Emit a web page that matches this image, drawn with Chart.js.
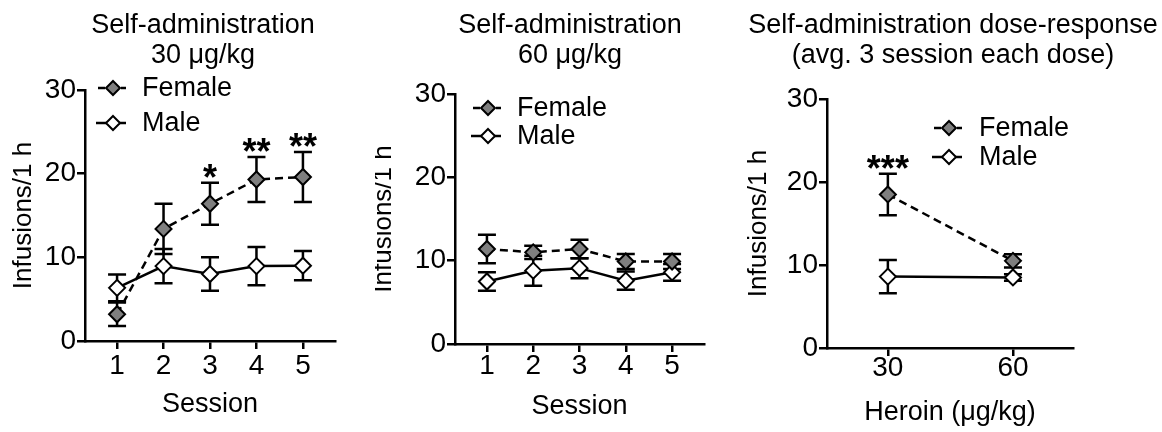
<!DOCTYPE html>
<html><head><meta charset="utf-8">
<script src="https://cdn.jsdelivr.net/npm/chart.js@4.4.0/dist/chart.umd.min.js"></script>
<style>
html,body{margin:0;padding:0;background:#fff;overflow:hidden;width:1162px;height:432px;}
.panel{position:absolute;top:0;}
canvas{display:block;}
</style></head><body>
<div class="panel" style="left:0px"><canvas id="c1" width="406" height="432"></canvas></div>
<div class="panel" style="left:375px"><canvas id="c2" width="390" height="432"></canvas></div>
<div class="panel" style="left:745px"><canvas id="c3" width="416" height="432"></canvas></div>
<script>
// ---------------- data ----------------
const sessions = [1, 2, 3, 4, 5];
const doses = [30, 60];
const yTicks = [0, 10, 20, 30];

const p1Female    = [3.2, 13.4, 16.4, 19.3, 19.6];
const p1FemaleErr = [1.4, 3.0, 2.5, 2.7, 3.0];
const p1Male      = [6.35, 8.95, 8.0, 8.95, 9.0];
const p1MaleErr   = [1.6, 2.05, 2.0, 2.3, 1.75];
const p1Stars     = ['', '', '*', '**', '**'];

const p2Female    = [11.4, 11.0, 11.4, 9.9, 9.9];
const p2FemaleErr = [1.7, 0.8, 1.1, 0.9, 0.9];
const p2Male      = [7.5, 8.8, 9.1, 7.6, 8.6];
const p2MaleErr   = [1.1, 1.8, 1.2, 1.1, 1.0];
const p2Stars     = ['', '', '', '', ''];

const p3Female    = [18.5, 10.5];
const p3FemaleErr = [2.5, 0.8];
const p3Male      = [8.6, 8.5];
const p3MaleErr   = [2.0, 0.4];
const p3Stars     = ['***', ''];

const seriesNames = ['Female', 'Male'];
// --------------------------------------

const FONT = "'Liberation Sans', Arial, Helvetica, sans-serif";
Chart.defaults.font.family = FONT;
Chart.defaults.color = '#000';

function diamond(ctx, x, y, r, fill) {
  ctx.beginPath();
  ctx.moveTo(x, y - r); ctx.lineTo(x + r, y); ctx.lineTo(x, y + r); ctx.lineTo(x - r, y);
  ctx.closePath();
  ctx.fillStyle = fill; ctx.fill();
  ctx.lineWidth = 2; ctx.strokeStyle = '#000'; ctx.setLineDash([]); ctx.stroke();
}

const errorBars = {
  id: 'errorBars',
  beforeDatasetsDraw(chart) {
    const ctx = chart.ctx, xs = chart.scales.x, ys = chart.scales.y;
    ctx.save();
    ctx.strokeStyle = '#000'; ctx.lineWidth = 2.5; ctx.setLineDash([]);
    chart.data.datasets.forEach(ds => {
      ds.data.forEach((pt, i) => {
        const e = ds.errors[i];
        const px = xs.getPixelForValue(pt.x);
        const top = ys.getPixelForValue(pt.y + e), bot = ys.getPixelForValue(pt.y - e);
        ctx.beginPath();
        ctx.moveTo(px, top); ctx.lineTo(px, bot);
        ctx.moveTo(px - 9, top); ctx.lineTo(px + 9, top);
        ctx.moveTo(px - 9, bot); ctx.lineTo(px + 9, bot);
        ctx.stroke();
      });
    });
    ctx.restore();
  },
  afterDatasetsDraw(chart, args, opts) {
    const stars = opts.stars || [];
    const ctx = chart.ctx, xs = chart.scales.x, ys = chart.scales.y;
    const ds = chart.data.datasets[0];
    const fs = 36;
    ctx.save();
    ctx.fillStyle = '#000';
    ctx.font = 'bold ' + fs + 'px ' + FONT;
    ctx.textAlign = 'center'; ctx.textBaseline = 'alphabetic';
    stars.forEach((s, i) => {
      if (!s) return;
      const pt = ds.data[i];
      const px = xs.getPixelForValue(pt.x);
      const top = ys.getPixelForValue(pt.y + ds.errors[i]);
      const cy = top - 13;
      ctx.fillText(s, px, cy + 0.57 * fs);
    });
    ctx.restore();
  }
};

const customLegend = {
  id: 'customLegend',
  afterDraw(chart, args, opts) {
    const ctx = chart.ctx;
    ctx.save();
    chart.data.datasets.forEach((ds, i) => {
      const y = opts.y[i], x = opts.x;
      ctx.strokeStyle = '#000'; ctx.lineWidth = 2.5;
      ctx.setLineDash([]);
      ctx.beginPath();
      if (ds.borderDash && ds.borderDash.length) {
        ctx.moveTo(x - 15, y); ctx.lineTo(x - 8, y);
        ctx.moveTo(x + 8, y); ctx.lineTo(x + 13, y);
      } else {
        ctx.moveTo(x - 17, y); ctx.lineTo(x + 13, y);
      }
      ctx.stroke();
      diamond(ctx, x, y, 7, ds.pointBackgroundColor);
      ctx.fillStyle = '#000';
      ctx.font = '27px ' + FONT;
      ctx.textAlign = 'left'; ctx.textBaseline = 'middle';
      ctx.fillText(ds.label, x + opts.textGap, y + 1);
    });
    ctx.restore();
  }
};

function makePanel(id, p) {
  const xVals = p.xVals;
  const mk = (vals) => vals.map((v, i) => ({x: xVals[i], y: v}));
  new Chart(document.getElementById(id), {
    type: 'line',
    data: {
      datasets: [
        { label: seriesNames[0], data: mk(p.female), errors: p.femaleErr,
          borderColor: '#000', borderWidth: 2.5, borderDash: [8, 5],
          pointStyle: 'rectRot', pointRadius: 8, pointHoverRadius: 8,
          pointBackgroundColor: '#7f7f7f', pointBorderColor: '#000', pointBorderWidth: 2,
          tension: 0, clip: false },
        { label: seriesNames[1], data: mk(p.male), errors: p.maleErr,
          borderColor: '#000', borderWidth: 2.5,
          pointStyle: 'rectRot', pointRadius: 8, pointHoverRadius: 8,
          pointBackgroundColor: '#ffffff', pointBorderColor: '#000', pointBorderWidth: 2,
          tension: 0, clip: false }
      ]
    },
    options: {
      responsive: false, animation: false, devicePixelRatio: 1,
      events: [],
      layout: { padding: 0 },
      plugins: {
        legend: { display: false },
        tooltip: { enabled: false },
        title: {
          display: true, text: p.title, color: '#000',
          font: { size: 27, weight: 'normal', lineHeight: 1.1 },
          padding: { top: 11, bottom: p.titleBottom }
        },
        customLegend: { x: p.legX, y: p.legY, textGap: p.legGap },
        errorBars: { stars: p.stars }
      },
      scales: {
        x: {
          type: 'linear', min: p.xMin, max: p.xMax,
          afterBuildTicks: s => { s.ticks = xVals.map(v => ({value: v})); },
          afterFit: s => { s.height = p.xHeight; },
          ticks: { autoSkip: false, font: { size: 28, lineHeight: 1 }, padding: p.xTickPad, color: '#000',
                   callback: v => String(v), maxRotation: 0 },
          grid: { display: true, drawOnChartArea: false, drawTicks: true, tickLength: 8, color: '#000', lineWidth: 2.5 },
          border: { display: true, color: '#000', width: 2.5 },
          title: { display: true, text: p.xTitle, color: '#000', font: { size: 27, lineHeight: 1.2 },
                   padding: { top: 0, bottom: p.xTitlePad } }
        },
        y: {
          type: 'linear', min: 0, max: 30,
          afterBuildTicks: s => { s.ticks = yTicks.map(v => ({value: v})); },
          afterFit: s => { s.width = p.yWidth; },
          ticks: { font: { size: 28, lineHeight: 1 }, padding: 1, color: '#000', callback: v => String(v) },
          grid: { display: true, drawOnChartArea: false, drawTicks: true, tickLength: 8, color: '#000', lineWidth: 2.5 },
          border: { display: true, color: '#000', width: 2.5 },
          title: { display: true, text: 'Infusions/1 h', color: '#000', font: { size: 26, lineHeight: 1.2 },
                   padding: { top: p.yTitlePad, bottom: 0 } }
        },
        pad: {
          type: 'linear', position: 'right', display: true,
          afterFit: s => { s.width = p.padRight; },
          ticks: { display: false }, grid: { display: false }, border: { display: false },
          title: { display: false }
        }
      }
    },
    plugins: [errorBars, customLegend]
  });
}

makePanel('c1', {
  xVals: sessions, female: p1Female, femaleErr: p1FemaleErr, male: p1Male, maleErr: p1MaleErr, stars: p1Stars,
  title: ['Self-administration', '30 μg/kg'], xTitle: 'Session',
  xMin: 0.31, xMax: 5.69, padRight: 71, yWidth: 85, xHeight: 91, titleBottom: 19.6,
  xTickPad: 3, xTitlePad: 11.4, yTitlePad: 8.4,
  legX: 113, legY: [88, 123], legGap: 29
});
makePanel('c2', {
  xVals: sessions, female: p2Female, femaleErr: p2FemaleErr, male: p2Male, maleErr: p2MaleErr, stars: p2Stars,
  title: ['Self-administration', '60 μg/kg'], xTitle: 'Session',
  xMin: 0.31, xMax: 5.69, padRight: 61, yWidth: 80, xHeight: 88, titleBottom: 23.6,
  xTickPad: 0, xTitlePad: 9.7, yTitlePad: -6.6,
  legX: 113, legY: [108, 136], legGap: 29
});
makePanel('c3', {
  xVals: doses, female: p3Female, femaleErr: p3FemaleErr, male: p3Male, maleErr: p3MaleErr, stars: p3Stars,
  title: ['Self-administration dose-response', '(avg. 3 session each dose)'], xTitle: 'Heroin (μg/kg)',
  xMin: 15.4, xMax: 74.4, padRight: 88, yWidth: 82, xHeight: 84, titleBottom: 28.6,
  xTickPad: -2, xTitlePad: 3.4, yTitlePad: -1.6,
  legX: 204, legY: [128, 157], legGap: 30
});
</script>
</body></html>
